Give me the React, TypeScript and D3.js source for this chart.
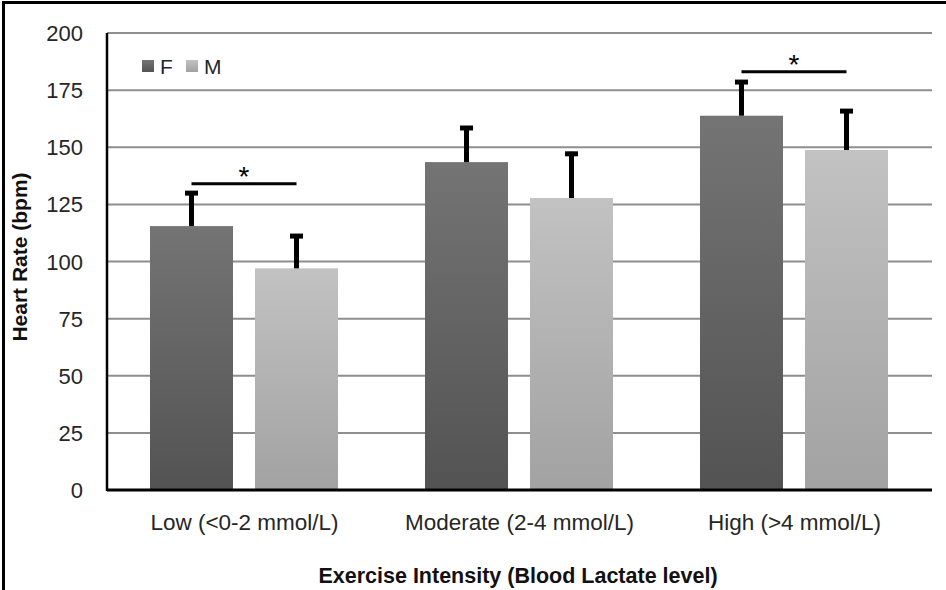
import React, { useEffect, useRef } from 'react';
import * as d3 from 'd3';

// Heart rate by exercise intensity, F vs M
const categories = ['Low (<0-2 mmol/L)', 'Moderate (2-4 mmol/L)', 'High (>4 mmol/L)'];
const seriesNames = ['F', 'M'];
const femaleHR = [115.5, 143.5, 163.8];
const maleHR = [97, 127.8, 148.8];
const femaleSD = [15.3, 15.8, 15.6];
const maleSD = [15, 20.2, 17.9];
const yTicks = [0, 25, 50, 75, 100, 125, 150, 175, 200];
const sigCategories = [0, 2];
const sigLevels = [134, 183];

const W = 946, H = 590;
const FONT = '"Liberation Sans Narrow", "Liberation Sans", Arial, sans-serif';

export default function App() {
    const ref = useRef<SVGSVGElement>(null);

    useEffect(() => {
        const svg = d3.select(ref.current);
        svg.selectAll('*').remove();

        const left = 107, right = 932, top = 33, bottom = 490;

        const defs = svg.append('defs');
        const grads = [['gF', '#747474', '#535353'], ['gM', '#c2c2c2', '#a2a2a2']];
        grads.forEach(([id, c1, c2]) => {
            const g = defs.append('linearGradient').attr('id', id)
                .attr('x1', 0).attr('y1', 0).attr('x2', 0).attr('y2', 1);
            g.append('stop').attr('offset', '0%').attr('stop-color', c1);
            g.append('stop').attr('offset', '100%').attr('stop-color', c2);
        });

        svg.append('rect').attr('width', W).attr('height', H).attr('fill', '#fff');

        // outer frame (top + left)
        svg.append('path').attr('d', `M3.5,${H} L3.5,2.5 L${W},2.5`)
            .attr('fill', 'none').attr('stroke', '#000').attr('stroke-width', 3);

        const x0 = d3.scaleBand().domain(categories).range([left, right]).padding(0);
        const x1 = d3.scaleBand().domain(seriesNames)
            .range([43, 231]).paddingInner(22 / 105).paddingOuter(0);
        const y = d3.scaleLinear().domain([0, 200]).range([bottom, top]);

        // gridlines
        svg.append('g').selectAll('line').data(yTicks.filter(t => t > 0)).enter()
            .append('line')
            .attr('x1', left).attr('x2', right)
            .attr('y1', d => y(d)).attr('y2', d => y(d))
            .attr('stroke', '#8e8e8e').attr('stroke-width', 2);

        // tick labels
        svg.append('g').selectAll('text').data(yTicks).enter()
            .append('text')
            .attr('x', 83).attr('y', d => y(d) + 8)
            .attr('text-anchor', 'end')
            .attr('font-family', FONT).attr('font-size', 22).attr('fill', '#262626')
            .text(d => d);

        const values = [femaleHR, maleHR];
        const sds = [femaleSD, maleSD];
        const fills = ['url(#gF)', 'url(#gM)'];

        seriesNames.forEach((s, si) => {
            const g = svg.append('g');
            g.selectAll('rect').data(categories).enter()
                .append('rect')
                .attr('x', d => x0(d)! + x1(s)!)
                .attr('width', x1.bandwidth())
                .attr('y', (d, i) => y(values[si][i]))
                .attr('height', (d, i) => bottom - y(values[si][i]))
                .attr('fill', fills[si]);

            // error bars (upper only)
            const cx = (d: string) => x0(d)! + x1(s)! + x1.bandwidth() / 2;
            g.selectAll('line.stem').data(categories).enter()
                .append('line').attr('class', 'stem')
                .attr('x1', cx).attr('x2', cx)
                .attr('y1', (d, i) => y(values[si][i]))
                .attr('y2', (d, i) => y(values[si][i] + sds[si][i]))
                .attr('stroke', '#000').attr('stroke-width', 5);
            g.selectAll('line.cap').data(categories).enter()
                .append('line').attr('class', 'cap')
                .attr('x1', d => cx(d) - 6.5).attr('x2', d => cx(d) + 6.5)
                .attr('y1', (d, i) => y(values[si][i] + sds[si][i]) + 2)
                .attr('y2', (d, i) => y(values[si][i] + sds[si][i]) + 2)
                .attr('stroke', '#000').attr('stroke-width', 5);
        });

        // axes
        svg.append('line').attr('x1', left).attr('x2', left).attr('y1', top).attr('y2', bottom + 1)
            .attr('stroke', '#000').attr('stroke-width', 2.5);
        svg.append('line').attr('x1', left).attr('x2', right).attr('y1', bottom).attr('y2', bottom)
            .attr('stroke', '#000').attr('stroke-width', 3);

        // significance brackets
        const sig = svg.append('g');
        sigCategories.forEach((ci, k) => {
            const c = categories[ci];
            const xa = x0(c)! + x1('F')! + x1.bandwidth() / 2;
            const xb = x0(c)! + x1('M')! + x1.bandwidth() / 2;
            sig.append('line').attr('x1', xa).attr('x2', xb)
                .attr('y1', y(sigLevels[k])).attr('y2', y(sigLevels[k]))
                .attr('stroke', '#000').attr('stroke-width', 3);
            sig.append('text').attr('x', (xa + xb) / 2).attr('y', y(sigLevels[k]) + 2)
                .attr('text-anchor', 'middle')
                .attr('font-family', FONT).attr('font-size', 28).attr('fill', '#000')
                .text('*');
        });

        // category labels
        svg.append('g').selectAll('text').data(categories).enter()
            .append('text')
            .attr('x', d => x0(d)! + x0.bandwidth() / 2).attr('y', 530)
            .attr('text-anchor', 'middle')
            .attr('font-family', FONT).attr('font-size', 22.5).attr('fill', '#262626')
            .text(d => d);

        // legend
        const legend = svg.append('g');
        const lx = [142, 186];
        seriesNames.forEach((s, i) => {
            legend.append('rect').attr('x', lx[i]).attr('y', 60).attr('width', 12).attr('height', 12)
                .attr('fill', fills[i]);
            legend.append('text').attr('x', lx[i] + 18).attr('y', 74)
                .attr('font-family', FONT).attr('font-size', 21).attr('fill', '#262626')
                .text(s);
        });

        // axis titles
        svg.append('text').attr('transform', 'translate(27,257) rotate(-90)')
            .attr('text-anchor', 'middle')
            .attr('font-family', FONT).attr('font-size', 21).attr('font-weight', 'bold')
            .attr('fill', '#111')
            .text('Heart Rate (bpm)');
        svg.append('text').attr('x', 518).attr('y', 583)
            .attr('text-anchor', 'middle')
            .attr('font-family', FONT).attr('font-size', 21.5).attr('font-weight', 'bold')
            .attr('fill', '#111')
            .text('Exercise Intensity (Blood Lactate level)');
    }, []);

    return (
        <div style={{ position: 'fixed', left: 0, top: 0 }}>
            <svg ref={ref} width={W} height={H} style={{ display: 'block' }} />
        </div>
    );
}
